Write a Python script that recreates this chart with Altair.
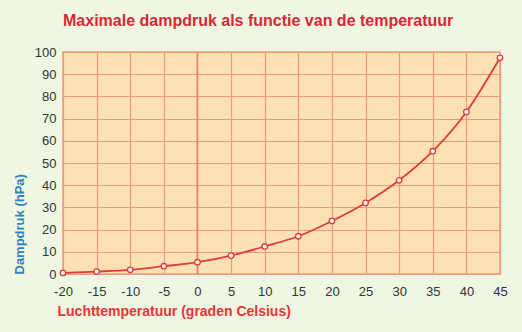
import altair as alt
import pandas as pd

temps = [-20, -15, -10, -5, 0, 5, 10, 15, 20, 25, 30, 35, 40, 45]
pressure = [0.5, 1.1, 1.9, 3.5, 5.3, 8.3, 12.4, 17.0, 23.9, 32.0, 42.2, 55.3, 73.0, 97.4]
x_ticks = list(range(-20, 50, 5))
y_ticks = list(range(0, 110, 10))

df = pd.DataFrame({"t": temps, "p": pressure})

FONT = "Liberation Sans"
RED = "#e23b3b"
GRID = "#ec9a82"

x = alt.X("t:Q", scale=alt.Scale(domain=[-20, 45], nice=False, zero=False),
          axis=alt.Axis(values=x_ticks, title="Luchttemperatuur (graden Celsius)",
                        titleAnchor="start", titleAlign="left", titleX=-6,
                        titleColor="#e8343a", titleFont=FONT, titleFontSize=14,
                        titleFontWeight="bold", titlePadding=6,
                        labelColor="#333333", labelFont=FONT, labelFontSize=13,
                        labelPadding=11, labelOverlap=False, labelFlush=False,
                        labelExpr="'' + datum.value",
                        ticks=False, domain=False,
                        grid=True, gridColor=GRID, gridWidth=1.2, gridOpacity=1))
y = alt.Y("p:Q", scale=alt.Scale(domain=[0, 100], nice=False),
          axis=alt.Axis(values=y_ticks, title="Dampdruk (hPa)",
                        titleAnchor="start", titleColor="#2f7fcb", titleFont=FONT,
                        titleFontSize=13, titleFontWeight="bold", titlePadding=8,
                        labelColor="#333333", labelFont=FONT, labelFontSize=13,
                        labelPadding=7, labelOverlap=False, labelFlush=False,
                        ticks=False, domain=False,
                        grid=True, gridColor=GRID, gridWidth=1.2, gridOpacity=1))

line = alt.Chart(df).mark_line(color=RED, strokeWidth=1.8, interpolate="monotone").encode(x=x, y=y)
pts = alt.Chart(df).mark_point(filled=True, fill="white", stroke=RED, strokeWidth=1.3,
                               size=30, opacity=1).encode(x=x, y=y)
zero = alt.Chart(pd.DataFrame({"t": [0]})).mark_rule(color="#e0806a", strokeWidth=1.6).encode(x=x)

chart = (line + zero + pts).properties(
    width=437, height=222,
    background="#eff6e1",
    padding={"left": 63, "top": 52, "right": 22, "bottom": 58},
    autosize=alt.AutoSizeParams(type="none"),
    title=alt.TitleParams("Maximale dampdruk als functie van de temperatuur",
                          anchor="start", frame="group", color="#d42a36",
                          font=FONT, fontSize=16, fontWeight="bold", offset=17),
).configure_view(fill="#fde1b4", stroke=GRID, strokeWidth=1.5)

chart.save("out.html", embed_options={"renderer": "svg", "actions": False})
